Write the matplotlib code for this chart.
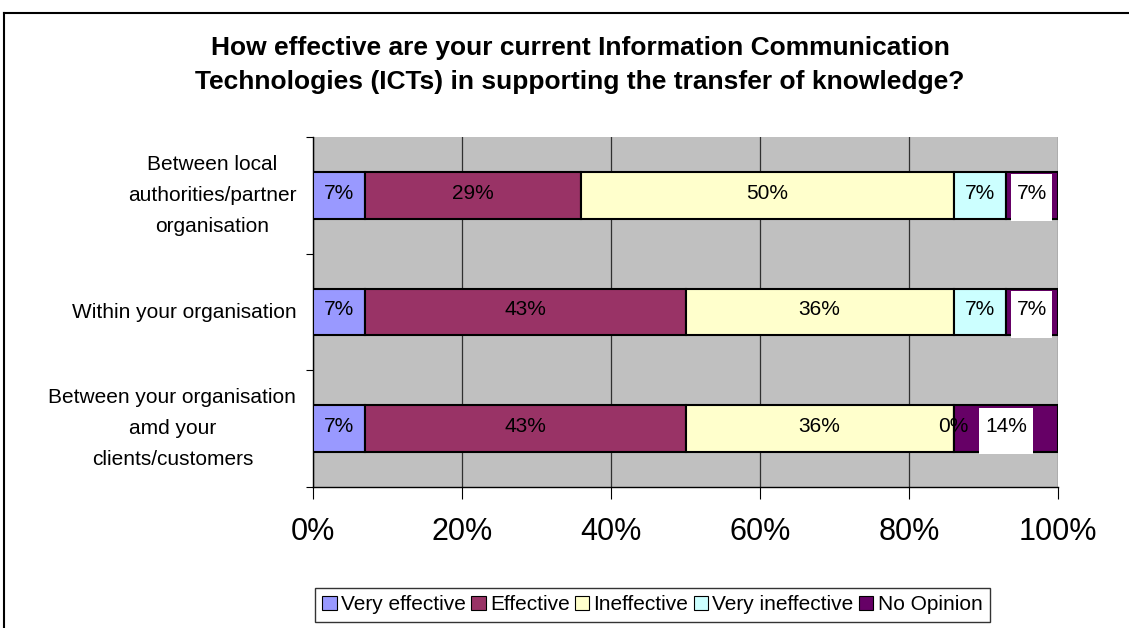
import matplotlib
matplotlib.use("Agg")
import matplotlib.pyplot as plt
from matplotlib.lines import Line2D
from matplotlib.patches import Rectangle
import numpy as np

plt.rcParams['font.family'] = ['Liberation Sans', 'DejaVu Sans']

# survey answers, percent of respondents per question (top row first)
questions = [
    "Between local\nauthorities/partner\norganisation",
    "Within your organisation",
    "Between your organisation\namd your\nclients/customers",
]
answers = ["Very effective", "Effective", "Ineffective", "Very ineffective", "No Opinion"]
very_effective = [7, 7, 7]
effective = [29, 43, 43]
ineffective = [50, 36, 36]
very_ineffective = [7, 7, 0]
no_opinion = [7, 7, 14]

colors = ["#9999FF", "#993366", "#FFFFCC", "#CCFFFF", "#660066"]
title = ("How effective are your current Information Communication\n"
         "Technologies (ICTs) in supporting the transfer of knowledge?")

W, H = 1129, 628
fig = plt.figure(figsize=(W / 100, H / 100), dpi=100)
ax = fig.add_axes([313 / W, 1 - 487 / H, (1058 - 313) / W, (487 - 137) / H])
ax.set_facecolor("#C0C0C0")

bar_h = 0.4
series = [very_effective, effective, ineffective, very_ineffective, no_opinion]
y = np.arange(len(questions))
left = np.zeros(len(questions))
for name, vals, col in zip(answers, series, colors):
    vals = np.array(vals, dtype=float)
    ax.barh(y, vals, left=left, height=bar_h, color=col, edgecolor="black",
            linewidth=1.5, label=name, zorder=3)
    for yi, l, v in zip(y, left, vals):
        label = f"{v:.0f}%"
        cx = l + v / 2
        if name == "No Opinion":
            # white label box over the dark segment
            bw = 1.9 + 1.8 * len(label)
            ax.add_patch(Rectangle((cx - bw / 2, yi - bar_h / 2 + 0.02), bw, bar_h,
                                   facecolor="white", edgecolor="none", zorder=4))
        ax.text(cx, yi - 0.02, label, ha="center", va="center",
                fontsize=15, color="black", zorder=5)
    left += vals

ax.set_xlim(0, 100)
ax.set_ylim(-0.5, len(questions) - 0.5)
ax.invert_yaxis()
ax.set_xticks(np.arange(0, 101, 20))
ax.set_xticklabels([f"{t}%" for t in range(0, 101, 20)], fontsize=22)
ax.tick_params(axis="x", length=8.6, width=0.8, pad=13, direction="out")
ax.xaxis.grid(True, color="#303030", linewidth=0.9, zorder=1)
ax.set_axisbelow(True)

ax.set_yticks(y)
ax.set_yticklabels(questions, fontsize=15, multialignment="center",
                   linespacing=1.8)
for t in ax.get_yticklabels():
    t.set_va("center")
ax.tick_params(axis="y", which="major", length=0, pad=12)
ax.set_yticks(np.arange(-0.5, len(questions), 1.0), minor=True)
ax.tick_params(axis="y", which="minor", length=5, width=0.8)

for s in ["top", "right"]:
    ax.spines[s].set_visible(False)
for s in ["left", "bottom"]:
    ax.spines[s].set_color("black")
    ax.spines[s].set_linewidth(1.0)

fig.text(580 / W, 1 - 65 / H, title, ha="center", va="center",
         fontsize=19, fontweight="bold", linespacing=1.5)

leg = fig.legend(loc="upper left", bbox_to_anchor=(315 / W, 1 - 588 / H),
                 ncol=5, fontsize=15, frameon=True, fancybox=False,
                 handlelength=0.7, handleheight=0.7, handletextpad=0.2,
                 columnspacing=0.25, borderpad=0.35, borderaxespad=0)
leg.get_frame().set_edgecolor("black")
leg.get_frame().set_linewidth(1.0)
for h in leg.legend_handles:
    h.set_linewidth(0.8)

# chart area frame
fig.add_artist(Line2D([4 / W, 1], [1 - 13 / H, 1 - 13 / H], color="black", lw=1.5))
fig.add_artist(Line2D([4 / W, 4 / W], [0, 1 - 13 / H], color="black", lw=1.5))

fig.savefig("out.png", dpi=100, facecolor="white")
